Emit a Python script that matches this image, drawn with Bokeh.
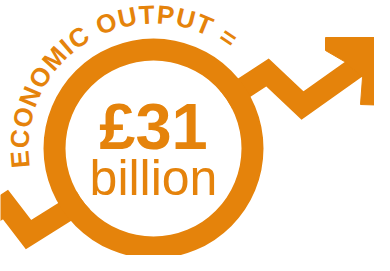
import numpy as np
from bokeh.plotting import figure
from bokeh.models import Range1d
from bokeh.core.properties import value
from bokeh.embed import file_html
from bokeh.resources import INLINE

# ---- data (picture coordinates: x to the right, y downward from the top of the 390x271 picture)
PIC_H = 271
ORANGE = "#E5830B"

# zigzag "growth" line, left part and right part
left_x = [-10, 13, 36, 100]
left_y = [227, 212, 242, 202]
right_x = [229, 275, 310, 372]
right_y = [110, 80, 113, 69]
# arrow head outline
head_x = [333, 400, 400, 368, 370, 352, 333]
head_y = [45, 45, 113, 112, 85, 69, 58]

# ring
ring_cx, ring_cy = 161, 156
ring_inner, ring_outer = 88, 110

# curved heading
heading = "ECONOMIC OUTPUT ="
heading_start_deg = 184.6
heading_end_deg = 56.0
heading_radius = 124.5        # baseline radius
heading_track = 2.0
heading_size = 26
char_w = {"E": .667, "C": .722, "O": .778, "N": .722, "M": .833, "I": .278,
          " ": .278, "U": .722, "T": .611, "P": .667, "=": .584}

# centre figures
value_text = "£31"
unit_text = "billion"
value_baseline = 157
unit_baseline = 203
value_size = 65
unit_size = 50

# the svg text renderer draws "alphabetic" text about this fraction of an em too low
BASELINE_FIX = 0.36


def fy(ys):
    return [PIC_H - y for y in ys]


p = figure(width=374, height=255, output_backend="svg", toolbar_location=None,
           x_range=Range1d(8, 382), y_range=Range1d(8, 263),
           min_border=0, background_fill_color="white", border_fill_color="white")
p.axis.visible = False
p.grid.visible = False
p.outline_line_color = None

lw = 22
p.line(left_x, fy(left_y), line_color=ORANGE, line_width=lw, line_join="miter", line_cap="butt")
p.line(right_x, fy(right_y), line_color=ORANGE, line_width=lw, line_join="miter", line_cap="butt")
p.patch(head_x, fy(head_y), fill_color=ORANGE, line_color=ORANGE, line_width=1)

cy = PIC_H - ring_cy
p.circle([ring_cx], [cy], radius=ring_inner, fill_color="white", line_color=None)
p.annulus([ring_cx], [cy], inner_radius=ring_inner, outer_radius=ring_outer,
          fill_color=ORANGE, line_color=None)

# curved text, one character at a time along the arc
w = np.array([char_w[c] for c in heading]) * heading_size
centers = np.cumsum(w) - w / 2 + np.arange(len(w)) * heading_track
frac = (centers - centers[0]) / (centers[-1] - centers[0])
theta = np.radians(heading_start_deg + frac * (heading_end_deg - heading_start_deg))
r_draw = heading_radius + BASELINE_FIX * heading_size
tx = ring_cx + r_draw * np.cos(theta)
ty = cy + r_draw * np.sin(theta)
chars = list(heading)
keep = [i for i, c in enumerate(chars) if c != " "]
p.text(x=tx[keep], y=ty[keep], text=[chars[i] for i in keep], angle=(theta - np.pi / 2)[keep],
       text_align="center", text_baseline="alphabetic",
       text_font=value("Liberation Sans"), text_font_style="bold",
       text_font_size=f"{heading_size}px", text_color=ORANGE)

p.text(x=[ring_cx], y=[PIC_H - value_baseline + BASELINE_FIX * value_size], text=[value_text],
       text_align="center", text_baseline="alphabetic",
       text_font=value("Liberation Sans"), text_font_style="bold",
       text_font_size=f"{value_size}px", text_color=ORANGE)
p.text(x=[ring_cx], y=[PIC_H - unit_baseline + BASELINE_FIX * unit_size], text=[unit_text],
       text_align="center", text_baseline="alphabetic",
       text_font=value("Liberation Sans"), text_font_style="normal",
       text_font_size=f"{unit_size}px", text_color=ORANGE)

open("out.html", "w").write(file_html(p, INLINE))
